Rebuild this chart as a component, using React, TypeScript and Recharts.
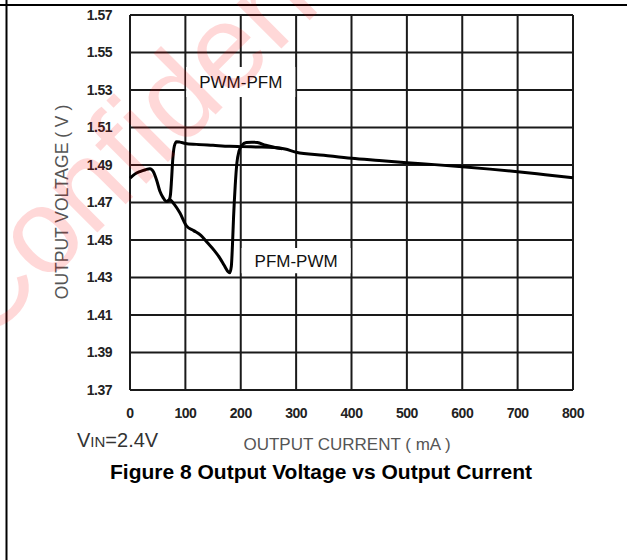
import React from 'react';
import { LineChart, Line, XAxis, YAxis, CartesianGrid, ReferenceArea } from 'recharts';

const xTicks = [0, 100, 200, 300, 400, 500, 600, 700, 800];
const yTicks = [1.37, 1.39, 1.41, 1.43, 1.45, 1.47, 1.49, 1.51, 1.53, 1.55, 1.57];

// Rising-load trace (PFM region, drops until it switches to PWM near 190 mA)
const pfmCurrent = [0, 8, 18, 28, 36, 42, 48, 54, 60, 66, 72, 80, 90, 102, 115, 128, 140, 152, 162, 170, 176, 180, 183, 185, 187, 190, 193, 197, 202, 210, 220, 230, 245, 260, 275];
const pfmVoltage = [1.483, 1.485, 1.4865, 1.4875, 1.488, 1.4865, 1.482, 1.476, 1.4725, 1.4705, 1.4715, 1.469, 1.4645, 1.4575, 1.455, 1.4525, 1.4485, 1.4445, 1.4405, 1.4365, 1.4335, 1.4325, 1.436, 1.447, 1.462, 1.479, 1.491, 1.4975, 1.5005, 1.502, 1.5022, 1.502, 1.5005, 1.4995, 1.4987];

// Falling-load trace (PWM region, drops back to PFM near 75 mA)
const pwmCurrent = [66, 70, 73, 75, 77, 80, 84, 90, 100, 120, 150, 180, 200, 230, 260, 280, 300, 350, 400, 450, 500, 550, 600, 650, 700, 750, 800];
const pwmVoltage = [1.4705, 1.471, 1.474, 1.482, 1.492, 1.5, 1.5024, 1.5022, 1.5015, 1.501, 1.5005, 1.5, 1.4998, 1.4996, 1.4993, 1.4985, 1.4968, 1.4952, 1.4936, 1.4924, 1.4912, 1.4902, 1.4891, 1.4878, 1.4864, 1.4848, 1.4832];

const labelPwmPfm = 'PWM-PFM';
const labelPfmPwm = 'PFM-PWM';

const pfmData = pfmCurrent.map((x, i) => ({ x, v: pfmVoltage[i] }));
const pwmData = pwmCurrent.map((x, i) => ({ x, v: pwmVoltage[i] }));

const FONT = '"Liberation Sans", Arial, Helvetica, sans-serif';

export default function App() {
  return (
    <div style={{ position: 'absolute', left: 0, top: 0, width: 627, height: 560, background: '#fff', fontFamily: FONT }}>
      <svg style={{ position: 'absolute', left: 0, top: 0 }} width={627} height={560}>
        <line x1={0} y1={5} x2={627} y2={5} stroke="#000" strokeWidth={2} />
        <line x1={6.5} y1={0} x2={6.5} y2={560} stroke="#000" strokeWidth={2} />
        <text x={62} y={202} transform="rotate(-90 62 202)" textAnchor="middle" dominantBaseline="central" fontSize={17.5} fill="#555" fontFamily={FONT}>OUTPUT VOLTAGE ( V )</text>
        <text x={347} y={444} textAnchor="middle" dominantBaseline="central" fontSize={17} fill="#555" fontFamily={FONT}>OUTPUT CURRENT ( mA )</text>
        <text x={77} y={447} fontSize={20} fill="#333" fontFamily={FONT}>V<tspan fontSize={15}>IN</tspan>=2.4V</text>
        <text x={321} y={479} textAnchor="middle" fontSize={21} fontWeight="bold" fill="#000" fontFamily={FONT}>Figure 8 Output Voltage vs Output Current</text>
      </svg>
      <div style={{ position: 'absolute', left: 0, top: 0 }}>
        <LineChart width={627} height={560} margin={{ top: 15, right: 54, bottom: 140, left: 60 }}>
          <CartesianGrid stroke="#1a1a1a" strokeWidth={2} />
          <XAxis
            type="number"
            dataKey="x"
            domain={[0, 800]}
            ticks={xTicks}
            height={30}
            axisLine={false}
            tickLine={false}
            tickSize={0}
            tickMargin={18}
            allowDuplicatedCategory={false}
            tick={{ fontSize: 14, fontWeight: 'bold', fill: '#222', fontFamily: FONT, letterSpacing: -0.5 }}
          />
          <YAxis
            type="number"
            domain={[1.37, 1.57]}
            ticks={yTicks}
            width={70}
            axisLine={false}
            tickLine={false}
            tickSize={0}
            tickMargin={18}
            tickFormatter={(v: number) => v.toFixed(2)}
            tick={{ fontSize: 14, fontWeight: 'bold', fill: '#222', fontFamily: FONT, letterSpacing: -0.5 }}
          />
          <ReferenceArea
            x1={101.5}
            x2={298.5}
            y1={1.5263}
            y2={1.5423}
            fill="#fff"
            fillOpacity={1}
            stroke="none"
            label={{ value: labelPwmPfm, position: 'center', fill: '#111', fontSize: 17, fontFamily: FONT }}
          />
          <ReferenceArea
            x1={201.5}
            x2={398.5}
            y1={1.4323}
            y2={1.4458}
            fill="#fff"
            fillOpacity={1}
            stroke="none"
            label={{ value: labelPfmPwm, position: 'center', fill: '#111', fontSize: 17, fontFamily: FONT }}
          />
          <Line data={pfmData} dataKey="v" type="monotone" stroke="#000" strokeWidth={3} dot={false} isAnimationActive={false} />
          <Line data={pwmData} dataKey="v" type="monotone" stroke="#000" strokeWidth={3} dot={false} isAnimationActive={false} />
        </LineChart>
      </div>
      <svg style={{ position: 'absolute', left: 0, top: 0, pointerEvents: 'none' }} width={627} height={560}>
        <text x={-17} y={347} transform="rotate(-45 -17 347)" fontSize={120} fill="#ff0000" opacity={0.15} fontFamily={FONT}>Confidential</text>
      </svg>
    </div>
  );
}
